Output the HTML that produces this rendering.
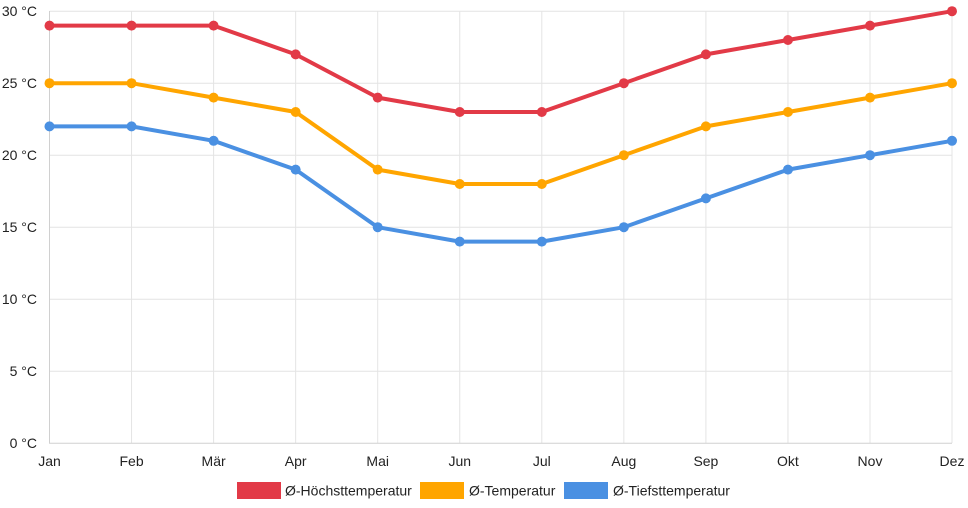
<!DOCTYPE html>
<html><head><meta charset="utf-8"><style>
html,body{margin:0;padding:0;background:#fff;}
svg{display:block;}
text{font-family:"Liberation Sans",Arial,sans-serif;font-size:14px;fill:#222;}
</style></head><body>
<svg width="968" height="508" viewBox="0 0 968 508" xmlns="http://www.w3.org/2000/svg">
<g stroke="#e4e4e4" stroke-width="1" fill="none">
<line x1="49.5" y1="11.2" x2="952" y2="11.2"/>
<line x1="49.5" y1="83.2" x2="952" y2="83.2"/>
<line x1="49.5" y1="155.2" x2="952" y2="155.2"/>
<line x1="49.5" y1="227.2" x2="952" y2="227.2"/>
<line x1="49.5" y1="299.2" x2="952" y2="299.2"/>
<line x1="49.5" y1="371.2" x2="952" y2="371.2"/>
<line x1="131.55" y1="11" x2="131.55" y2="443"/>
<line x1="213.6" y1="11" x2="213.6" y2="443"/>
<line x1="295.65" y1="11" x2="295.65" y2="443"/>
<line x1="377.7" y1="11" x2="377.7" y2="443"/>
<line x1="459.75" y1="11" x2="459.75" y2="443"/>
<line x1="541.8" y1="11" x2="541.8" y2="443"/>
<line x1="623.85" y1="11" x2="623.85" y2="443"/>
<line x1="705.9" y1="11" x2="705.9" y2="443"/>
<line x1="787.95" y1="11" x2="787.95" y2="443"/>
<line x1="870" y1="11" x2="870" y2="443"/>
<line x1="952" y1="11" x2="952" y2="443"/>
</g>
<g stroke="#d0d0d0" stroke-width="1">
<line x1="49.5" y1="11" x2="49.5" y2="443.5"/>
<line x1="49" y1="443.2" x2="952" y2="443.2"/>
</g>
<g text-anchor="end">
<text x="37" y="16">30 °C</text>
<text x="37" y="88">25 °C</text>
<text x="37" y="160">20 °C</text>
<text x="37" y="232">15 °C</text>
<text x="37" y="304">10 °C</text>
<text x="37" y="376">5 °C</text>
<text x="37" y="448">0 °C</text>
</g>
<g text-anchor="middle">
<text x="49.5" y="466">Jan</text>
<text x="131.55" y="466">Feb</text>
<text x="213.6" y="466">Mär</text>
<text x="295.65" y="466">Apr</text>
<text x="377.7" y="466">Mai</text>
<text x="459.75" y="466">Jun</text>
<text x="541.8" y="466">Jul</text>
<text x="623.85" y="466">Aug</text>
<text x="705.9" y="466">Sep</text>
<text x="787.95" y="466">Okt</text>
<text x="870" y="466">Nov</text>
<text x="952" y="466">Dez</text>
</g>
<!-- Blue -->
<g>
<polyline fill="none" stroke="#4a90e2" stroke-width="4" stroke-linejoin="round" points="49.5,126.4 131.55,126.4 213.6,140.8 295.65,169.6 377.7,227.2 459.75,241.6 541.8,241.6 623.85,227.2 705.9,198.4 787.95,169.6 870,155.2 952,140.8"/>
<g fill="#4a90e2">
<circle cx="49.5" cy="126.4" r="5"/><circle cx="131.55" cy="126.4" r="5"/><circle cx="213.6" cy="140.8" r="5"/><circle cx="295.65" cy="169.6" r="5"/><circle cx="377.7" cy="227.2" r="5"/><circle cx="459.75" cy="241.6" r="5"/><circle cx="541.8" cy="241.6" r="5"/><circle cx="623.85" cy="227.2" r="5"/><circle cx="705.9" cy="198.4" r="5"/><circle cx="787.95" cy="169.6" r="5"/><circle cx="870" cy="155.2" r="5"/><circle cx="952" cy="140.8" r="5"/>
</g>
</g>
<!-- Orange -->
<g>
<polyline fill="none" stroke="#ffa500" stroke-width="4" stroke-linejoin="round" points="49.5,83.2 131.55,83.2 213.6,97.6 295.65,112 377.7,169.6 459.75,184 541.8,184 623.85,155.2 705.9,126.4 787.95,112 870,97.6 952,83.2"/>
<g fill="#ffa500">
<circle cx="49.5" cy="83.2" r="5"/><circle cx="131.55" cy="83.2" r="5"/><circle cx="213.6" cy="97.6" r="5"/><circle cx="295.65" cy="112" r="5"/><circle cx="377.7" cy="169.6" r="5"/><circle cx="459.75" cy="184" r="5"/><circle cx="541.8" cy="184" r="5"/><circle cx="623.85" cy="155.2" r="5"/><circle cx="705.9" cy="126.4" r="5"/><circle cx="787.95" cy="112" r="5"/><circle cx="870" cy="97.6" r="5"/><circle cx="952" cy="83.2" r="5"/>
</g>
</g>
<!-- Red -->
<g>
<polyline fill="none" stroke="#e23a47" stroke-width="4" stroke-linejoin="round" points="49.5,25.6 131.55,25.6 213.6,25.6 295.65,54.4 377.7,97.6 459.75,112 541.8,112 623.85,83.2 705.9,54.4 787.95,40 870,25.6 952,11.2"/>
<g fill="#e23a47">
<circle cx="49.5" cy="25.6" r="5"/><circle cx="131.55" cy="25.6" r="5"/><circle cx="213.6" cy="25.6" r="5"/><circle cx="295.65" cy="54.4" r="5"/><circle cx="377.7" cy="97.6" r="5"/><circle cx="459.75" cy="112" r="5"/><circle cx="541.8" cy="112" r="5"/><circle cx="623.85" cy="83.2" r="5"/><circle cx="705.9" cy="54.4" r="5"/><circle cx="787.95" cy="40" r="5"/><circle cx="870" cy="25.6" r="5"/><circle cx="952" cy="11.2" r="5"/>
</g>
</g>
<!-- Legend -->
<rect x="237" y="482" width="44" height="17" fill="#e23a47"/>
<text x="285" y="495.5">Ø-Höchsttemperatur</text>
<rect x="420" y="482" width="44" height="17" fill="#ffa500"/>
<text x="469" y="495.5">Ø-Temperatur</text>
<rect x="564" y="482" width="44" height="17" fill="#4a90e2"/>
<text x="613" y="495.5">Ø-Tiefsttemperatur</text>
</svg>
</body></html>
